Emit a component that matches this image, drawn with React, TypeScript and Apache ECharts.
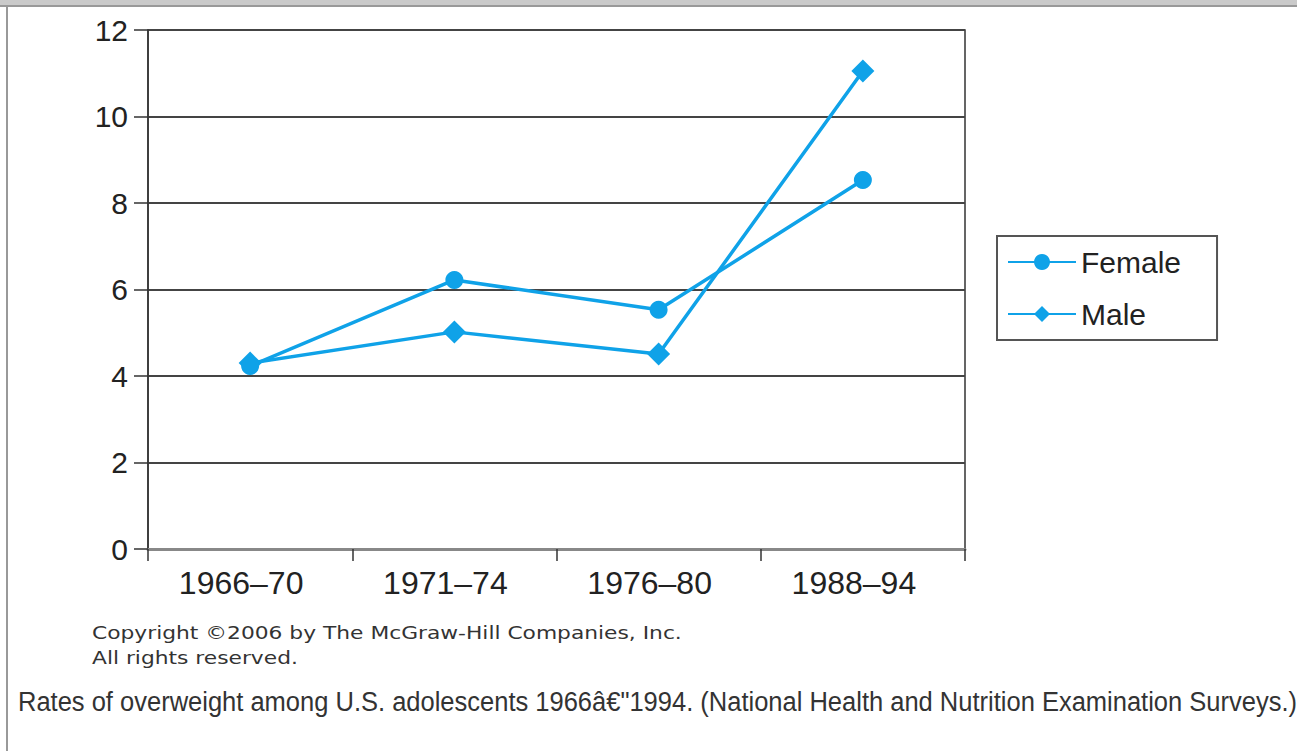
import React, { useEffect, useRef } from "react";
import * as echarts from "echarts";

const categories = ["1966–70", "1971–74", "1976–80", "1988–94"];
const femaleValues = [4.23, 6.22, 5.53, 8.53];
const maleValues = [4.3, 5.02, 4.51, 11.05];
const yTicks = { min: 0, max: 12, interval: 2 };
const copyrightLines = ["Copyright ©2006 by The McGraw-Hill Companies, Inc.", "All rights reserved."];
const captionText = "Rates of overweight among U.S. adolescents 1966â€\"1994. (National Health and Nutrition Examination Surveys.)";

const LINE_COLOR = "#0fa2e8";

export default function App() {
  const ref = useRef<HTMLDivElement>(null);
  useEffect(() => {
    if (!ref.current) return;
    const chart = echarts.init(ref.current, null, { renderer: "svg" });
    chart.setOption({
      animation: false,
      backgroundColor: "#ffffff",
      grid: {
        left: 148,
        right: 332,
        top: 30,
        bottom: 202,
        show: true,
        borderColor: "#333",
        borderWidth: 1.5,
        containLabel: false,
      },
      legend: {
        orient: "vertical",
        left: 997,
        top: 236,
        padding: [11, 36, 11, 10],
        itemGap: 22,
        itemWidth: 68,
        itemHeight: 20,
        borderColor: "#555",
        borderWidth: 2,
        textStyle: { fontFamily: "Liberation Sans, Arial, sans-serif", fontSize: 30, color: "#222" },
        data: ["Female", "Male"],
      },
      xAxis: {
        type: "category",
        data: categories,
        boundaryGap: true,
        axisLine: { show: true, lineStyle: { color: "#888", width: 3 } },
        axisTick: { show: true, length: 12, lineStyle: { color: "#333", width: 1.5 } },
        axisLabel: {
          margin: 18,
          padding: [0, 18, 0, 0],
          fontFamily: "Liberation Sans, Arial, sans-serif",
          fontSize: 32,
          color: "#222",
        },
        splitLine: { show: false },
      },
      yAxis: {
        type: "value",
        min: yTicks.min,
        max: yTicks.max,
        interval: yTicks.interval,
        axisLine: { show: true, lineStyle: { color: "#333", width: 1.5 } },
        axisTick: { show: true, length: 14, lineStyle: { color: "#333", width: 1.5 } },
        axisLabel: {
          margin: 20,
          fontFamily: "Liberation Sans, Arial, sans-serif",
          fontSize: 30,
          color: "#222",
        },
        splitLine: { show: true, lineStyle: { color: "#444", width: 2 } },
      },
      series: [
        {
          name: "Male",
          type: "line",
          data: maleValues,
          symbol: "diamond",
          symbolSize: 23,
          itemStyle: { color: LINE_COLOR },
          lineStyle: { color: LINE_COLOR, width: 3.5 },
          z: 3,
        },
        {
          name: "Female",
          type: "line",
          data: femaleValues,
          symbol: "circle",
          symbolSize: 18,
          itemStyle: { color: LINE_COLOR },
          lineStyle: { color: LINE_COLOR, width: 3.5 },
          z: 4,
        },
      ],
      graphic: [
        { type: "rect", left: 0, top: 0, shape: { width: 1297, height: 6 }, style: { fill: "#cacaca" } },
        { type: "rect", left: 0, top: 5, shape: { width: 1297, height: 2 }, style: { fill: "#999" } },
        { type: "rect", left: 6, top: 6, shape: { width: 2, height: 745 }, style: { fill: "#999" } },
        {
          type: "text",
          x: 92,
          y: 620,
          scaleX: 1.21,
          style: {
            text: copyrightLines.join("\n"),
            fontFamily: "DejaVu Sans, Verdana, sans-serif",
            fontSize: 18,
            lineHeight: 25,
            fill: "#333",
          },
        },
        {
          type: "text",
          x: 18,
          y: 688,
          scaleX: 0.945,
          style: {
            text: captionText,
            fontFamily: "Liberation Sans, Arial, sans-serif",
            fontSize: 27,
            fill: "#333",
          },
        },
      ],
    });
    return () => chart.dispose();
  }, []);
  return (
    <div
      ref={ref}
      style={{ position: "absolute", left: 0, top: 0, width: 1297, height: 751 }}
    />
  );
}
